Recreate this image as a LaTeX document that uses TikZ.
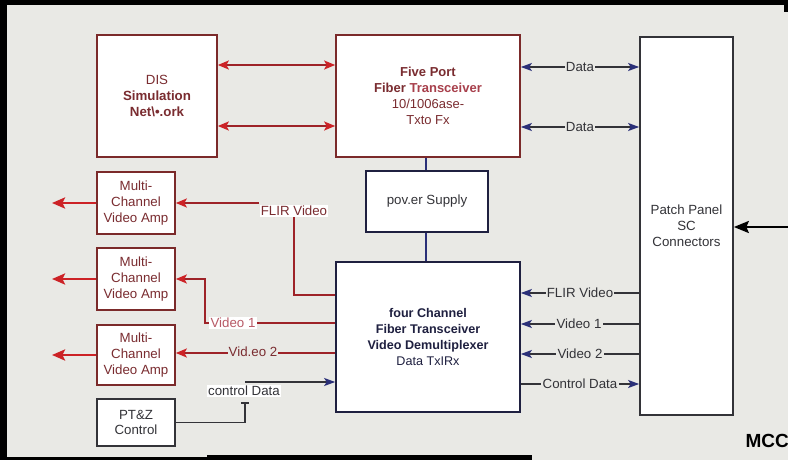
\documentclass[tikz,border=0pt]{standalone}
\usepackage{fontspec}
\setmainfont{Liberation Sans}
\usetikzlibrary{arrows.meta,calc}
\definecolor{bg}{HTML}{E9E9E5}
\definecolor{boxred}{HTML}{7B2A2A}
\definecolor{txtred}{HTML}{7A2C30}
\definecolor{transred}{HTML}{A8404C}
\definecolor{arrred}{HTML}{CC2226}
\definecolor{lnred}{HTML}{9E2328}
\definecolor{navy}{HTML}{2A2F78}
\definecolor{navybox}{HTML}{1F2040}
\definecolor{dgray}{HTML}{333338}
\definecolor{pinkred}{HTML}{B85A66}
\begin{document}
\begin{tikzpicture}[x=1pt,y=-1pt,
  fnt/.style={font=\fontsize{13.3}{16}\selectfont},
  box/.style={draw, fill=white, line width=1.7pt, inner sep=0pt, align=center, fnt},
  lbl/.style={inner sep=1.2pt, fnt, fill=white},
  reddbl/.style={draw=lnred, line width=2pt, {Stealth[length=11pt,width=9pt,inset=2.5pt,color=arrred]}-{Stealth[length=11pt,width=9pt,inset=2.5pt,color=arrred]}},
  redarr/.style={draw=lnred, line width=1.8pt, -{Stealth[length=11pt,width=9pt,inset=2.5pt,color=arrred]}},
  bigred/.style={draw=arrred, line width=2.8pt, -{Stealth[length=13pt,width=11pt,inset=2.5pt]}},
  navdbl/.style={draw=dgray, line width=1.6pt, {Stealth[length=11pt,width=8pt,inset=2.5pt,color=navy]}-{Stealth[length=11pt,width=8pt,inset=2.5pt,color=navy]}},
  navarr/.style={draw=dgray, line width=1.6pt, -{Stealth[length=11pt,width=8pt,inset=2.5pt,color=navy]}},
  navthick/.style={draw=navy, line width=2.8pt},
  blkarr/.style={draw=black, line width=2.4pt, -{Stealth[length=15pt,width=12pt,inset=2.5pt]}}
]
\useasboundingbox (0,0) rectangle (788,460);
\fill[bg] (0,0) rectangle (788,460);
% frame
\fill[black] (0,0) rectangle (788,5);
\fill[black] (0,0) rectangle (7,460);
\fill[black] (0,457) rectangle (207,460);
\fill[black] (207,455) rectangle (532,460);
\fill[black] (784,0) rectangle (788,12);

% boxes
\node[box, draw=boxred, text=txtred, minimum width=120pt, minimum height=122pt] (dis) at (157,96)
  {DIS\\\bfseries Simulation\\\bfseries Net\textbackslash•.ork};
\node[box, draw=boxred, text=txtred, minimum width=184pt, minimum height=122pt, font=\fontsize{13}{16}\selectfont] (five) at (428,96)
  {\bfseries Five Port\\\bfseries Fiber \textcolor{transred}{Transceiver}\\10/1006ase-\\Txto Fx};
\node[box, draw=dgray, text=dgray, minimum width=93pt, minimum height=378pt] (patch) at (686.5,226)
  {Patch Panel\\SC\\Connectors};
\node[box, draw=navybox, text=dgray, minimum width=122pt, minimum height=61pt] (power) at (427,201.5)
  {pov.er Supply};
\node[box, draw=navybox, text=navybox, minimum width=184pt, minimum height=150pt, font=\fontsize{12.6}{16}\selectfont] (four) at (428,337)
  {\bfseries four Channel\\\bfseries Fiber Transceiver\\\bfseries Video Demultiplexer\\Data TxIRx};
\node[box, draw=boxred, text=txtred, minimum width=78pt, minimum height=62pt] (amp1) at (136,203)
  {Multi-\\Channel\\Video Amp};
\node[box, draw=boxred, text=txtred, minimum width=78pt, minimum height=62pt] (amp2) at (136,279)
  {Multi-\\Channel\\Video Amp};
\node[box, draw=boxred, text=txtred, minimum width=78pt, minimum height=60pt] (amp3) at (136,355)
  {Multi-\\Channel\\Video Amp};
\node[box, draw=dgray, text=dgray, minimum width=78pt, minimum height=47pt, font=\fontsize{13.3}{14.5}\selectfont] (ptz) at (136,422.5)
  {PT\&Z\\Control};

% DIS <-> Five Port
\draw[reddbl] (dis.east |- 0,65) -- (five.west |- 0,65);
\draw[reddbl] (dis.east |- 0,126) -- (five.west |- 0,126);

% Five Port <-> Patch
\draw[navdbl] (five.east |- 0,67) -- (patch.west |- 0,67);
\draw[navdbl] (five.east |- 0,127) -- (patch.west |- 0,127);
\node[lbl, fill=bg, text=dgray] (d1) at (580,67) {Data};
\node[lbl, fill=bg, text=dgray] (d2) at (580,127) {Data};

% power connections
\draw[navthick] (five.south -| 426,0) -- (power.north -| 426,0);
\draw[navthick] (power.south -| 426,0) -- (four.north -| 426,0);

% Patch -> four channel
\draw[navarr] (patch.west |- 0,293) -- (four.east |- 0,293);
\draw[navarr] (patch.west |- 0,324) -- (four.east |- 0,324);
\draw[navarr] (patch.west |- 0,354) -- (four.east |- 0,354);
\draw[navarr] (four.east |- 0,384) -- (patch.west |- 0,384);
\node[lbl, fill=bg, text=dgray] (rl1) at (580,293) {FLIR Video};
\node[lbl, fill=bg, text=dgray] (rl2) at (579,324) {Video 1};
\node[lbl, fill=bg, text=dgray] (rl3) at (580,354) {Video 2};
\node[lbl, fill=bg, text=dgray] (rl4) at (580,384) {Control Data};

% external input to patch panel
\coordinate (extin) at (788,227);
\draw[blkarr] (extin) -- (patch.east |- extin);

% amp outputs
\coordinate (o1) at (52,203);
\coordinate (o2) at (52,279);
\coordinate (o3) at (52,355);
\draw[bigred] (amp1.west) -- (o1);
\draw[bigred] (amp2.west) -- (o2);
\draw[bigred] (amp3.west) -- (o3);

% left video routes
\node[lbl, text=txtred] (flirL) at (294,211) {FLIR Video};
\draw[draw=lnred, line width=1.8pt] (four.west |- 0,295) -| (flirL.south);
\draw[redarr] (flirL.west |- 0,203) -- (amp1.east);

\draw[redarr] (four.west |- 0,323) -- (205,323) |- (amp2.east);
\node[lbl, text=pinkred] (v1L) at (233,323) {Video 1};

\draw[redarr] (four.west |- 0,353) -- (amp3.east |- 0,353);
\node[lbl, text=txtred, fill=bg] (v2L) at (253,352) {Vid.eo 2};

% control data
\draw[draw=dgray, line width=1.6pt] (ptz.east) -| (245,403);
\draw[draw=dgray, line width=1.6pt] (241,403) -- (249,403);
\draw[navarr] (245,382) -- (four.west |- 0,382);
\node[lbl, text=dgray] (cdL) at (244,391) {control Data};

% MCC
\node[anchor=east, inner sep=0pt, font=\fontsize{19}{20}\selectfont\bfseries] (mcc) at (789,441) {MCC};
\end{tikzpicture}
\end{document}
